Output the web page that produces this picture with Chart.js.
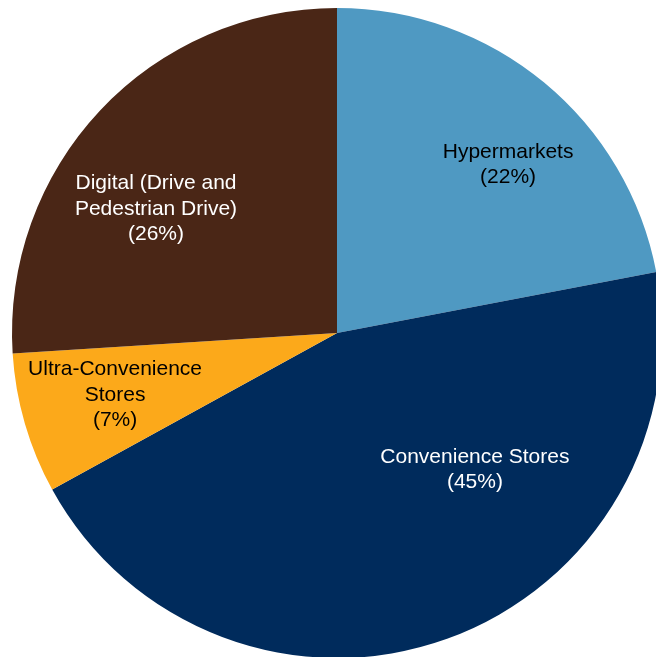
<!DOCTYPE html>
<html>
<head>
<meta charset="utf-8">
<script src="https://cdn.jsdelivr.net/npm/chart.js@4/dist/chart.umd.min.js"></script>
<style>
  html, body { margin: 0; padding: 0; background: #fff; overflow: hidden; width: 656px; height: 657px; }
  #wrap { position: absolute; left: 0; top: 0; width: 674px; height: 666px; }
</style>
</head>
<body>
<div id="wrap"><canvas id="c" width="674" height="666"></canvas></div>
<script>
const categories = ["Hypermarkets", "Convenience Stores", "Ultra-Convenience Stores", "Digital (Drive and Pedestrian Drive)"];
const values = [22, 45, 7, 26];
const labelLines = [["Hypermarkets"], ["Convenience Stores"], ["Ultra-Convenience", "Stores"], ["Digital (Drive and", "Pedestrian Drive)"]];
const colors = ["#4F99C2", "#002B5C", "#FCA91A", "#4A2616"];
const textColors = ["#000000", "#ffffff", "#000000", "#ffffff"];
// label placement: [angle from 12 o'clock in degrees, fraction of radius]
const labelPlace = [[45.5, 0.738], [134.8, 0.598], [254.4, 0.709], [304.4, 0.675]];

const labelPlugin = {
  id: 'sliceLabels',
  afterDatasetsDraw(chart) {
    const ctx = chart.ctx;
    const meta = chart.getDatasetMeta(0);
    ctx.save();
    ctx.font = '21px "Liberation Sans", Arial, sans-serif';
    ctx.textAlign = 'center';
    ctx.textBaseline = 'middle';
    meta.data.forEach((arc, i) => {
      const p = arc.getProps(['x', 'y', 'outerRadius'], true);
      const a = labelPlace[i][0] * Math.PI / 180;
      const r = p.outerRadius * labelPlace[i][1];
      const cx = p.x + Math.sin(a) * r;
      const cy = p.y - Math.cos(a) * r;
      const lines = labelLines[i].concat(["(" + values[i] + "%)"]);
      const lh = 25.5;
      const top = cy - (lines.length - 1) * lh / 2;
      ctx.fillStyle = textColors[i];
      lines.forEach((t, j) => ctx.fillText(t, cx, top + j * lh));
    });
    ctx.restore();
  }
};

new Chart(document.getElementById('c'), {
  type: 'pie',
  data: {
    labels: categories,
    datasets: [{ data: values, backgroundColor: colors, borderWidth: 0, hoverOffset: 0 }]
  },
  options: {
    responsive: false,
    animation: false,
    layout: { padding: 8 },
    plugins: { legend: { display: false }, tooltip: { enabled: false } }
  },
  plugins: [labelPlugin]
});
</script>
</body>
</html>
